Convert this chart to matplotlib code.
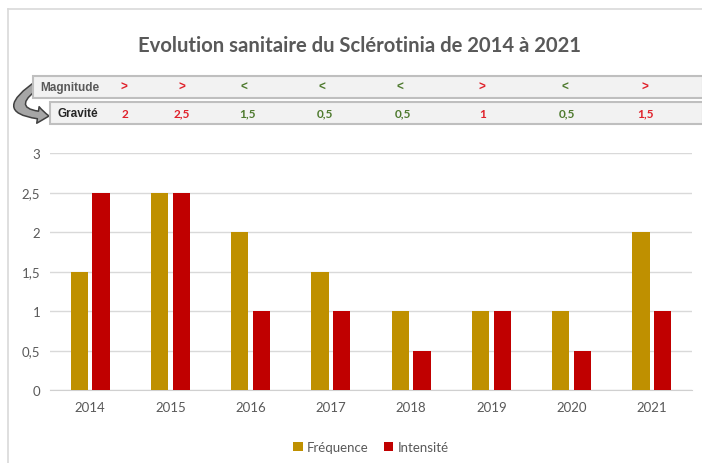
import numpy as np
import matplotlib
matplotlib.use('Agg')
import matplotlib.pyplot as plt
import matplotlib.ticker as mticker
from matplotlib.patches import Rectangle, FancyArrowPatch

plt.rcParams['font.family'] = ['Lato', 'DejaVu Sans']

# données
annees = ['2014', '2015', '2016', '2017', '2018', '2019', '2020', '2021']
frequence = [1.5, 2.5, 2, 1.5, 1, 1, 1, 2]
intensite = [2.5, 2.5, 1, 1, 0.5, 1, 0.5, 1]
magnitude = ['>', '>', '<', '<', '<', '>', '<', '>']
gravite = ['2', '2,5', '1,5', '0,5', '0,5', '1', '0,5', '1,5']

# positions des textes du bandeau (pixels)
x_magnitude = [124, 182, 244, 322, 400, 482, 565, 645]
x_gravite = [125, 182, 247, 325, 403, 483, 567, 645]

C_FREQ = '#BF9000'
C_INT = '#C00000'
C_ROUGE = '#E0202A'
C_VERT = '#4E7A2E'
GRIS = '#595959'

W, H = 702, 464
fig = plt.figure(figsize=(W / 100, H / 100), dpi=100)
fig.patch.set_facecolor('white')

def fx(px):
    return px / W

def fy(py):
    return 1 - py / H

# cadre du graphique
fig.add_artist(plt.Line2D([fx(8), fx(8)], [fy(10), 0], color='#d9d9d9', lw=1.2))
fig.add_artist(plt.Line2D([fx(8), 1], [fy(10), fy(10)], color='#d9d9d9', lw=1.2))

ax = fig.add_axes([fx(50), fy(391), fx(692) - fx(50), fy(154) - fy(391)])
x = np.arange(len(annees))
larg = 0.215
ax.bar(x - 0.137, frequence, larg, color=C_FREQ, label='Fréquence', zorder=3)
ax.bar(x + 0.137, intensite, larg, color=C_INT, label='Intensité', zorder=3)

ax.set_xlim(-0.5, len(annees) - 0.5)
ax.set_ylim(0, 3)
ax.set_yticks(np.arange(0, 3.01, 0.5))
ax.yaxis.set_major_formatter(mticker.FuncFormatter(lambda v, _: f"{v:g}".replace('.', ',')))
ax.set_xticks(x)
ax.set_xticklabels(annees)
ax.grid(axis='y', color='#d9d9d9', lw=1, zorder=0)
for s in ['top', 'right', 'left']:
    ax.spines[s].set_visible(False)
ax.spines['bottom'].set_color('#d0d0d0')
ax.tick_params(length=0, colors=GRIS, labelsize=9.5)
ax.tick_params(axis='x', pad=8)
ax.tick_params(axis='y', pad=7)

fig.text(fx(360), fy(46), 'Evolution sanitaire du Sclérotinia de 2014 à 2021',
         ha='center', va='center', fontsize=14.6, fontweight='bold', color=GRIS)

# flèche courbe Magnitude -> Gravité
fleche = FancyArrowPatch((fx(40), fy(84)), (fx(49), fy(117)),
                         transform=fig.transFigure,
                         connectionstyle='arc3,rad=1.5', shrinkA=0, shrinkB=0,
                         arrowstyle='simple,head_width=12,head_length=8,tail_width=5.5',
                         fc='#a6a6a6', ec='#404040', lw=1.1, zorder=1)
fig.add_artist(fleche)

# bandeau Magnitude / Gravité
fig.add_artist(Rectangle((fx(33), fy(99)), fx(703) - fx(33), fy(77) - fy(99),
                         transform=fig.transFigure, fc='#f2f2f2', ec='#bfbfbf', lw=1.5, zorder=2))
fig.add_artist(Rectangle((fx(50), fy(125)), fx(703) - fx(50), fy(103) - fy(125),
                         transform=fig.transFigure, fc='#f2f2f2', ec='#bfbfbf', lw=1.5, zorder=2))
fig.text(fx(40), fy(88), 'Magnitude', ha='left', va='center', fontsize=8.5,
         fontweight='bold', color=GRIS, family=['Liberation Sans', 'DejaVu Sans'], zorder=3)
fig.text(fx(57), fy(114), 'Gravité', ha='left', va='center', fontsize=8.5,
         fontweight='bold', color='#262626', family=['Liberation Sans', 'DejaVu Sans'], zorder=3)
for xp, m in zip(x_magnitude, magnitude):
    fig.text(fx(xp), fy(88), m, ha='center', va='center', fontsize=8.5, fontweight='bold',
             color=C_ROUGE if m == '>' else C_VERT, family=['Liberation Sans', 'DejaVu Sans'],
             zorder=3)
for xp, g, m in zip(x_gravite, gravite, magnitude):
    fig.text(fx(xp), fy(114), g, ha='center', va='center', fontsize=8.5, fontweight='bold',
             color=C_ROUGE if m == '>' else C_VERT, zorder=3)

ax.legend(loc='upper center', bbox_to_anchor=(0.5, -0.165), ncol=2, frameon=False,
          fontsize=9.5, handlelength=0.7, handleheight=0.7, handletextpad=0.3,
          columnspacing=1.2, labelcolor=GRIS)

fig.savefig('out.png', dpi=100)
